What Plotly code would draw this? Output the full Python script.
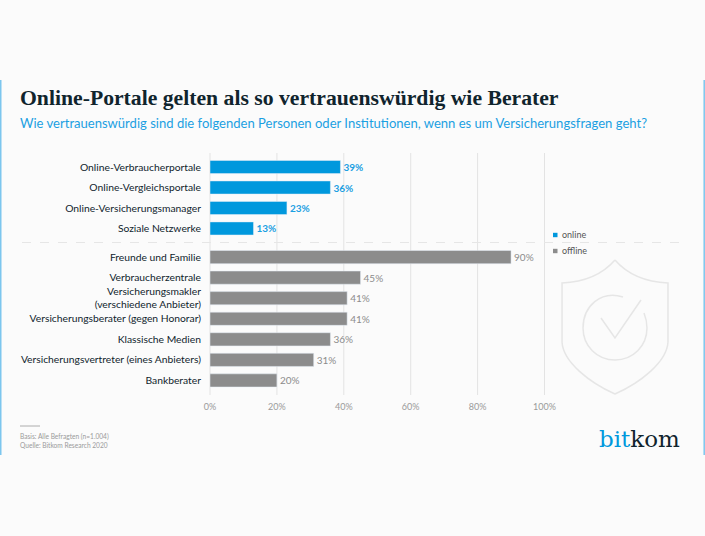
import plotly.graph_objects as go

W, H = 705, 536

online_labels = ["Online-Verbraucherportale", "Online-Vergleichsportale",
                 "Online-Versicherungsmanager", "Soziale Netzwerke"]
online_values = [39, 36, 23, 13]
offline_labels = ["Freunde und Familie", "Verbraucherzentrale",
                  "Versicherungsmakler<br>(verschiedene Anbieter)",
                  "Versicherungsberater (gegen Honorar)", "Klassische Medien",
                  "Versicherungsvertreter (eines Anbieters)", "Bankberater"]
offline_values = [90, 45, 41, 41, 36, 31, 20]
x_ticks = [0, 20, 40, 60, 80, 100]

BLUE = "#0098dd"
GREY = "#8c8c8c"
DARK = "#10242d"
BG = "#fbfbfb"
BODY_FONT = "Lato"


def px_x(x):
    return x / W


def px_y(y):
    return 1 - y / H


def line(x0, y0, x1, y1, color, width=1, dash="solid", layer="below"):
    return dict(type="line", xref="paper", yref="paper", x0=px_x(x0), x1=px_x(x1),
                y0=px_y(y0), y1=px_y(y1), layer=layer,
                line=dict(color=color, width=width, dash=dash))


def path(points, color, width=1.5):
    # pixel coordinates to a paper-space svg path
    d = ""
    for cmd, *xy in points:
        d += cmd + " "
        for i in range(0, len(xy), 2):
            d += f"{px_x(xy[i]):.4f},{px_y(xy[i + 1]):.4f} "
    return dict(type="path", xref="paper", yref="paper", path=d, layer="below",
                line=dict(color=color, width=width))


def text(x, y, s, size, color, family=BODY_FONT):
    # annotations sit about 2px right of x because of their border padding
    return dict(xref="paper", yref="paper", x=px_x(x - 2), y=px_y(y), text=s, showarrow=False,
                xanchor="left", yanchor="middle", align="left",
                font=dict(size=size, color=color, family=family))


fig = go.Figure()
fig.add_trace(go.Bar(name="online", y=online_labels, x=online_values, orientation="h",
                     yaxis="y", xaxis="x", marker_color=BLUE, width=0.64,
                     text=[f"{v}%" for v in online_values], textposition="outside",
                     textfont=dict(size=10, color="#1ba0e2", family=BODY_FONT, weight="bold"),
                     cliponaxis=False))
fig.add_trace(go.Bar(name="offline", y=offline_labels, x=offline_values, orientation="h",
                     yaxis="y2", xaxis="x", marker_color=GREY, width=0.64,
                     text=[f"{v}%" for v in offline_values], textposition="outside",
                     textfont=dict(size=10, color="#8c8c8c", family=BODY_FONT),
                     cliponaxis=False))

shapes = []
# side rules
shapes.append(line(0.75, 80, 0.75, 455, "#7cc6ee", 1.5))
shapes.append(line(704.2, 80, 704.2, 455, "#7cc6ee", 1.5))
# vertical grid
for t in x_ticks:
    gx = 210 + t / 100 * 334.5
    shapes.append(line(gx, 153, gx, 395, "#e3e3e3", 1))
# online / offline separator
shapes.append(line(22, 242.5, 680, 242.5, "#e6e6e6", 1, "dash"))
# footnote rule
shapes.append(line(20, 426, 40, 426, "#9a9a9a", 0.8))

# legend swatches
for ly, c in [(235, BLUE), (251, GREY)]:
    shapes.append(dict(type="rect", xref="paper", yref="paper", x0=px_x(553), x1=px_x(557.5),
                       y0=px_y(ly - 2.2), y1=px_y(ly + 2.2), fillcolor=c, line_width=0))

# shield watermark
SH = "#e6e6e6"
shapes.append(path([("M", 615, 260), ("C", 602, 275, 585, 282, 562, 283), ("L", 562, 342),
                    ("C", 563, 362, 590, 383, 615, 394), ("C", 640, 383, 667, 362, 668, 342),
                    ("L", 668, 283), ("C", 645, 282, 628, 275, 615, 260)], SH))
shapes.append(path([("M", 601, 318), ("L", 615, 338), ("L", 641, 300)], SH))
shapes.append(path([("M", 623, 297), ("C", 601, 290, 583, 306, 583, 328),
                    ("C", 583, 346, 597, 360, 615, 360), ("C", 633, 360, 647, 346, 647, 328),
                    ("C", 647, 323, 646, 318, 644, 313)], SH))

annotations = [
    text(20, 97.5, "<b>Online-Portale gelten als so vertrauenswürdig wie Berater</b>", 21.7, DARK,
         family="Liberation Serif"),
    text(20, 123, "Wie vertrauenswürdig sind die folgenden Personen oder Institutionen, wenn es um Versicherungsfragen geht?",
         13.05, "#1ba0e2"),
    text(562, 234.5, "online", 9, "#555555"),
    text(562, 250.5, "offline", 9, "#555555"),
    text(20, 436, "Basis: Alle Befragten (n=1.004)", 6.6, "#9a9a9a"),
    text(20, 444.5, "Quelle: Bitkom Research 2020", 6.6, "#9a9a9a"),
    text(599, 439, '<span style="color:#0098dd">bit</span>kom', 23, "#10242d",
         family="DejaVu Serif"),
]

row_axis = dict(type="category", autorange="reversed", showgrid=False, zeroline=False, showline=False,
                automargin=False, ticks="outside", ticklen=6, tickcolor="rgba(0,0,0,0)",
                tickfont=dict(size=10.3, color=DARK, family=BODY_FONT), anchor="x")

fig.update_layout(
    width=W, height=H, autosize=False,
    margin=dict(l=0, r=0, t=0, b=0),
    paper_bgcolor=BG, plot_bgcolor="rgba(0,0,0,0)",
    showlegend=False, bargap=0.36,
    shapes=shapes, annotations=annotations,
    xaxis=dict(domain=[px_x(210), px_x(544.5)], range=[0, 100], anchor="y2", automargin=False,
               tickvals=x_ticks, ticktext=[f"{t}%" for t in x_ticks],
               showgrid=False, zeroline=False, showline=False,
               ticks="outside", ticklen=7, tickcolor="rgba(0,0,0,0)",
               tickfont=dict(size=9, color="#9a9a9a", family=BODY_FONT)),
    yaxis=dict(row_axis, domain=[px_y(238.7), px_y(156.8)]),
    yaxis2=dict(row_axis, domain=[px_y(390.7), px_y(246.8)]),
)

fig.write_html("out.html", config={"displayModeBar": False},
               post_script="document.body.style.margin='0';")
